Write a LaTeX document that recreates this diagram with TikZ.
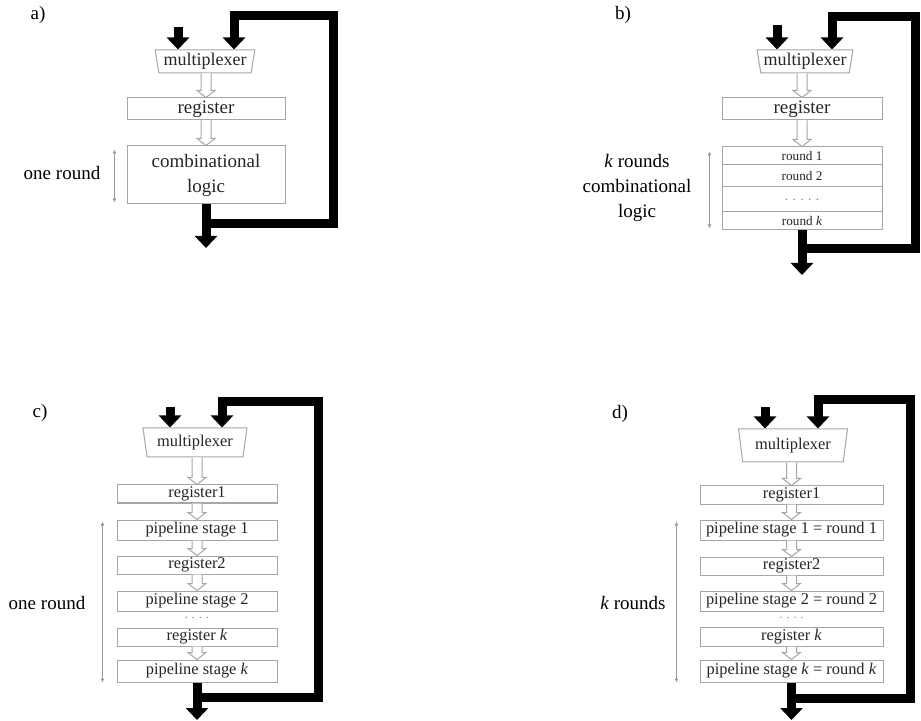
\documentclass[tikz,border=0pt]{standalone}
\usepackage{fontspec}
\setmainfont{Liberation Serif}
\usetikzlibrary{arrows.meta,calc,shapes.geometric}
\tikzset{unit/.style={draw=gray!70,line width=0.5pt,fill=white,text=black!85,inner sep=0pt}}
\tikzset{mux/.style={unit,trapezium,trapezium left angle=102,trapezium right angle=102,trapezium stretches=true}}
\tikzset{bus/.style={line width=4.5pt,black,-{Triangle[width=11pt,length=6pt]}}}
\tikzset{hollowarrow/.style={draw=gray!70,line width=0.5pt,fill=white}}
\tikzset{dim/.style={draw=gray!80,line width=0.4pt,{Latex[length=2pt,width=2pt]}-{Latex[length=2pt,width=2pt]}}}
\tikzset{gap/.style={inner sep=0pt,text=gray,font=\fontsize{6}{6}\selectfont}}
\newcommand{\bigtext}{\fontsize{9.5}{12.5}\selectfont}
\newcommand{\smalltext}{\fontsize{8.2}{10}\selectfont}
% hollow block arrow from the bottom of #1 to the top of #2
\newcommand{\hollowlink}[2]{%
  \draw[hollowarrow] ($(#1.south -| #2.north)+(-5,0)$) -- ($(#2.north)+(-5,-7)$) -- ($(#2.north)+(-9,-7)$)
    -- (#2.north) -- ($(#2.north)+(9,-7)$) -- ($(#2.north)+(5,-7)$) -- ($(#1.south -| #2.north)+(5,0)$);}

\begin{document}
\begin{tikzpicture}[x=0.5pt,y=-0.5pt]
        \useasboundingbox (0,0) rectangle (921,721);
        % a)
        \node[font=\bigtext] (a-label) at (38,15) {a)};
        \node[mux,minimum width=50pt,minimum height=11.5pt,font=\fontsize{9}{11}\selectfont] (a-mux) at (205,61.5) {multiplexer};
        \node[unit,minimum width=79pt,minimum height=11pt,font=\bigtext] (a-reg) at (206,109) {register};
        \node[unit,minimum width=79pt,minimum height=29pt,align=center,font=\bigtext] (a-logic) at (206,175) {combinational\\logic};
        \coordinate (a-in) at (178,27);
        \coordinate (a-out) at (206,248);
        \coordinate (a-fb1) at (333,224);
        \coordinate (a-fb2) at (333,16);
        \coordinate (a-fb3) at (234,16);
        \draw[bus] (a-in) -- (a-in |- a-mux.north);
        \draw[bus] (a-logic.south) -- (a-out);
        \draw[bus] (a-logic.south |- a-fb1) -- (a-fb1) -- (a-fb2) -- (a-fb3) -- (a-fb3 |- a-mux.north);
        \hollowlink{a-mux}{a-reg}
        \hollowlink{a-reg}{a-logic}
        \draw[dim] ([xshift=-6pt,yshift=-2pt]a-logic.north west) -- ([xshift=-6pt,yshift=1pt]a-logic.south west);
        \node[font=\bigtext] (a-side) at (62,173) {one round};

        % b)
        \node[font=\bigtext] (b-label) at (623,15) {b)};
        \node[mux,minimum width=48pt,minimum height=11.5pt,font=\fontsize{9}{11}\selectfont] (b-mux) at (805,61.5) {multiplexer};
        \node[unit,minimum width=80pt,minimum height=11pt,font=\bigtext] (b-reg) at (802,109) {register};
        \node[unit,minimum width=80pt,minimum height=9pt,font=\fontsize{6.6}{8}\selectfont] (b-r1) at (802,156) {round 1};
        \node[unit,minimum width=80pt,minimum height=11pt,font=\fontsize{6.6}{8}\selectfont] (b-r2) at (802,176) {round 2};
        \node[unit,minimum width=80pt,minimum height=12.5pt,font=\fontsize{6.6}{8}\selectfont,text=gray] (b-dots) at (802,199.5) {.\,\,.\,\,.\,\,.\,\,.};
        \node[unit,minimum width=80pt,minimum height=9pt,font=\fontsize{6.6}{8}\selectfont] (b-rk) at (802,221) {round \textit{k}};
        \coordinate (b-in) at (777,25);
        \coordinate (b-out) at (802,275);
        \coordinate (b-fb1) at (915,249);
        \coordinate (b-fb2) at (915,17);
        \coordinate (b-fb3) at (832,17);
        \draw[bus] (b-in) -- (b-in |- b-mux.north);
        \draw[bus] (b-rk.south) -- (b-out);
        \draw[bus] (b-rk.south |- b-fb1) -- (b-fb1) -- (b-fb2) -- (b-fb3) -- (b-fb3 |- b-mux.north);
        \hollowlink{b-mux}{b-reg}
        \hollowlink{b-reg}{b-r1}
        \draw[dim] ([xshift=-6pt,yshift=-2.5pt]b-r1.north west) -- ([xshift=-6pt,yshift=1pt]b-rk.south west);
        \node[font=\bigtext,align=center] (b-side) at (637,188) {\textit{k} rounds\\combinational\\logic};

        % c)
        \node[font=\bigtext] (c-label) at (40,413) {c)};
        \node[mux,minimum width=52pt,minimum height=14.5pt,font=\smalltext] (c-mux) at (195,442.5) {multiplexer};
        \node[unit,minimum width=80pt,minimum height=9pt,font=\smalltext] (c-r1) at (197,494) {register1};
        \node[unit,minimum width=80pt,minimum height=10pt,font=\smalltext] (c-s1) at (197,530) {pipeline stage 1};
        \node[unit,minimum width=80pt,minimum height=9pt,font=\smalltext] (c-r2) at (197,565) {register2};
        \node[unit,minimum width=80pt,minimum height=10pt,font=\smalltext] (c-s2) at (197,601) {pipeline stage 2};
        \node[gap] (c-dots) at (197,618) {.\,\,.\,\,.\,\,.};
        \node[unit,minimum width=80pt,minimum height=9pt,font=\smalltext] (c-rk) at (197,637) {register \textit{k}};
        \node[unit,minimum width=80pt,minimum height=11pt,font=\smalltext] (c-sk) at (197,671) {pipeline stage \textit{k}};
        \coordinate (c-in) at (170,407);
        \coordinate (c-out) at (197,720);
        \coordinate (c-fb1) at (318,697);
        \coordinate (c-fb2) at (318,402);
        \coordinate (c-fb3) at (222,402);
        \draw[bus] (c-in) -- (c-in |- c-mux.north);
        \draw[bus] (c-sk.south) -- (c-out);
        \draw[bus] (c-sk.south |- c-fb1) -- (c-fb1) -- (c-fb2) -- (c-fb3) -- (c-fb3 |- c-mux.north);
        \hollowlink{c-mux}{c-r1}
        \hollowlink{c-r1}{c-s1}
        \hollowlink{c-s1}{c-r2}
        \hollowlink{c-r2}{c-s2}
        \hollowlink{c-rk}{c-sk}
        \draw[dim] ([xshift=-7pt,yshift=-1pt]c-s1.north west) -- ([xshift=-7pt]c-sk.south west);
        \node[font=\bigtext] (c-side) at (47,603) {one round};

        % d)
        \node[font=\bigtext] (d-label) at (620,414) {d)};
        \node[mux,minimum width=54.5pt,minimum height=16.5pt,font=\smalltext] (d-mux) at (793,445.5) {multiplexer};
        \node[unit,minimum width=91.5pt,minimum height=9pt,font=\smalltext] (d-r1) at (791.5,495) {register1};
        \node[unit,minimum width=91.5pt,minimum height=10pt,font=\smalltext] (d-s1) at (791.5,530) {pipeline stage 1 = round 1};
        \node[unit,minimum width=91.5pt,minimum height=9pt,font=\smalltext] (d-r2) at (791.5,566) {register2};
        \node[unit,minimum width=91.5pt,minimum height=10pt,font=\smalltext] (d-s2) at (791.5,601) {pipeline stage 2 = round 2};
        \node[gap] (d-dots) at (791.5,618) {.\,\,.\,\,.\,\,.};
        \node[unit,minimum width=91.5pt,minimum height=9.5pt,font=\smalltext] (d-rk) at (791.5,636.5) {register \textit{k}};
        \node[unit,minimum width=91.5pt,minimum height=11pt,font=\smalltext] (d-sk) at (791.5,671) {pipeline stage \textit{k} = round \textit{k}};
        \coordinate (d-in) at (765,407);
        \coordinate (d-out) at (791.5,720);
        \coordinate (d-fb1) at (910,698);
        \coordinate (d-fb2) at (910,400);
        \coordinate (d-fb3) at (818,400);
        \draw[bus] (d-in) -- (d-in |- d-mux.north);
        \draw[bus] (d-sk.south) -- (d-out);
        \draw[bus] (d-sk.south |- d-fb1) -- (d-fb1) -- (d-fb2) -- (d-fb3) -- (d-fb3 |- d-mux.north);
        \hollowlink{d-mux}{d-r1}
        \hollowlink{d-r1}{d-s1}
        \hollowlink{d-s1}{d-r2}
        \hollowlink{d-r2}{d-s2}
        \hollowlink{d-rk}{d-sk}
        \draw[dim] ([xshift=-11.5pt,yshift=-1pt]d-s1.north west) -- ([xshift=-11.5pt]d-sk.south west);
        \node[font=\bigtext] (d-side) at (633,603) {\textit{k} rounds};
\end{tikzpicture}
\end{document}
